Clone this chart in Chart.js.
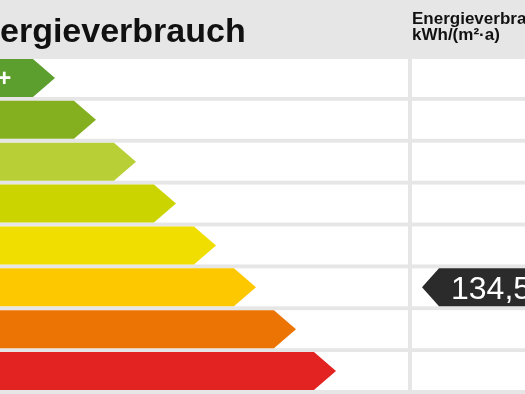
<!DOCTYPE html>
<html>
<head>
<meta charset="utf-8">
<script src="https://cdn.jsdelivr.net/npm/chart.js@4.4.1/dist/chart.umd.min.js"></script>
<style>
  html, body { margin: 0; padding: 0; background: #e6e6e6; }
  #wrap { width: 525px; height: 394px; position: relative; }
</style>
</head>
<body>
<div id="wrap"><canvas id="c" width="525" height="394"></canvas></div>
<script>
// ---- data ----
const classes = ['A+', 'A', 'B', 'C', 'D', 'E', 'F', 'G'];
const barTips = [55, 96, 136, 176, 216, 256, 296, 336];
const barColors = ['#5c9f2e', '#84b01f', '#b9cf36', '#ccd400', '#f0de00', '#fec800', '#ec7404', '#e32321'];
const markerValue = '134,5';
const markerClass = 'E';
const titleText = 'Energieverbrauch';
const unitLines = ['Energieverbrauch', 'kWh/(m²·a)'];

const GRAY = '#e6e6e6';
const ROW_PCT = 0.9075;

const arrowPlugin = {
  id: 'arrowPlugin',
  beforeDraw(chart) {
    const ctx = chart.ctx;
    const y = chart.scales.y;
    const area = chart.chartArea;
    ctx.save();
    ctx.fillStyle = GRAY;
    ctx.fillRect(0, 0, chart.width, chart.height);
    const band = (area.bottom - area.top) / classes.length;
    const h = band * ROW_PCT;
    ctx.fillStyle = '#ffffff';
    classes.forEach((c, i) => {
      const yc = y.getPixelForValue(i);
      ctx.fillRect(area.left, yc - h / 2, area.right - area.left, h);
      ctx.fillRect(area.right + 4, yc - h / 2, chart.width - area.right - 4, h);
    });
    // title
    ctx.fillStyle = '#111111';
    ctx.font = 'bold 34px "Liberation Sans", Arial, sans-serif';
    ctx.textBaseline = 'alphabetic';
    ctx.textAlign = 'left';
    const off = ctx.measureText('En').width;
    ctx.fillText(titleText, 0 - off, 42);
    ctx.font = 'bold 17px "Liberation Sans", Arial, sans-serif';
    ctx.fillText(unitLines[0], area.right + 4, 24);
    ctx.fillText(unitLines[1], area.right + 4, 40);
    ctx.restore();
  },
  beforeDatasetDraw() { return false; },
  afterDatasetsDraw(chart) {
    const ctx = chart.ctx;
    const meta = chart.getDatasetMeta(0);
    ctx.save();
    meta.data.forEach((bar, i) => {
      const top = bar.y - bar.height / 2;
      const bot = bar.y + bar.height / 2;
      const depth = bar.height * 0.58;
      ctx.fillStyle = bar.options.backgroundColor;
      ctx.beginPath();
      ctx.moveTo(bar.base - 30, top);
      ctx.lineTo(bar.x - depth, top);
      ctx.lineTo(bar.x, bar.y);
      ctx.lineTo(bar.x - depth, bot);
      ctx.lineTo(bar.base - 30, bot);
      ctx.closePath();
      ctx.fill();
      ctx.fillStyle = '#ffffff';
      ctx.font = 'bold 24px "Liberation Sans", Arial, sans-serif';
      ctx.textBaseline = 'middle';
      ctx.textAlign = 'left';
      ctx.fillText(classes[i], -20, bar.y + 1);
    });
    // marker
    const idx = classes.indexOf(markerClass);
    const mb = meta.data[idx];
    const top = mb.y - mb.height / 2;
    const bot = mb.y + mb.height / 2;
    const x0 = chart.chartArea.right + 14;
    ctx.fillStyle = '#2b2b2b';
    ctx.beginPath();
    ctx.moveTo(x0, mb.y);
    ctx.lineTo(x0 + 17, top);
    ctx.lineTo(chart.width + 10, top);
    ctx.lineTo(chart.width + 10, bot);
    ctx.lineTo(x0 + 17, bot);
    ctx.closePath();
    ctx.fill();
    ctx.fillStyle = '#ffffff';
    ctx.font = '32px "Liberation Sans", Arial, sans-serif';
    ctx.textBaseline = 'alphabetic';
    ctx.fillText(markerValue, x0 + 29, mb.y + 12);
    ctx.restore();
  }
};

new Chart(document.getElementById('c'), {
  type: 'bar',
  data: {
    labels: classes,
    datasets: [{
      data: barTips,
      backgroundColor: barColors,
      barPercentage: ROW_PCT,
      categoryPercentage: 1
    }]
  },
  options: {
    indexAxis: 'y',
    responsive: false,
    animation: false,
    events: [],
    layout: { padding: { top: 57, bottom: 2, left: 0, right: 117 } },
    plugins: { legend: { display: false }, tooltip: { enabled: false }, title: { display: false } },
    scales: {
      x: { display: false, min: 0, max: 408 },
      y: { display: false }
    }
  },
  plugins: [arrowPlugin]
});
</script>
</body>
</html>
